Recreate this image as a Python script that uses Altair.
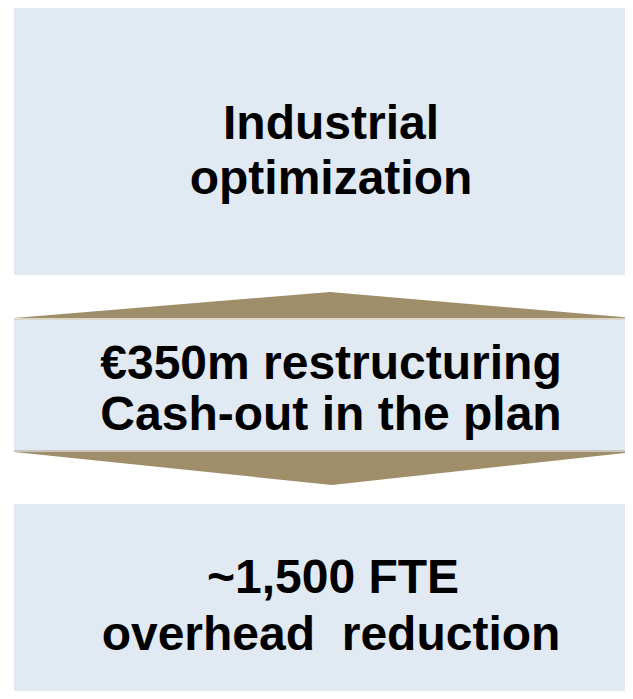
import altair as alt
import pandas as pd

# Boxes (pixel-space extents of the three panels)
box_names = ["top", "middle", "bottom"]
box_x0 = [14, 14, 14]
box_x1 = [633, 633, 633]
box_y0 = [7, 320, 504]
box_y1 = [275, 451, 699]

# Arrow triangles: (x, y) vertices along the outline, base level
up_x = [14, 330, 633]
up_y = [318, 292, 318]
up_base = [318, 318, 318]
down_x = [14, 332, 633]
down_y = [452, 485, 452]
down_base = [452, 452, 452]

# thin light edges at the arrow bases
edge_x0 = [14, 14]
edge_x1 = [633, 633]
edge_y = [319, 451]
edge_col = ["#CFC8B6", "#B9B4A8"]

# Text lines
lines = ["Industrial", "optimization",
         "€350m restructuring", "Cash-out in the plan",
         "~1,500 FTE", "overhead\u00a0 reduction"]
line_x = [331, 331, 331, 331, 333, 331]
line_y = [139, 194, 379, 430, 593, 650]

BOX = "#E1E9F3"
ARROW = "#A08E6A"

xs = alt.Scale(domain=[8, 625], nice=False, zero=False)
ys = alt.Scale(domain=[8, 691], nice=False, zero=False, reverse=True)

boxes = pd.DataFrame({"name": box_names, "x0": box_x0, "x1": box_x1,
                      "y0": box_y0, "y1": box_y1})
box_layer = alt.Chart(boxes).mark_rect(color=BOX, clip=True).encode(
    x=alt.X("x0:Q", scale=xs, axis=None),
    x2="x1:Q",
    y=alt.Y("y0:Q", scale=ys, axis=None),
    y2="y1:Q",
)

up = pd.DataFrame({"x": up_x, "y": up_y, "b": up_base})
up_layer = alt.Chart(up).mark_area(color=ARROW, opacity=1, clip=True).encode(
    x=alt.X("x:Q", scale=xs, axis=None),
    y=alt.Y("y:Q", scale=ys, axis=None),
    y2="b:Q",
)

down = pd.DataFrame({"x": down_x, "y": down_y, "b": down_base})
down_layer = alt.Chart(down).mark_area(color=ARROW, opacity=1, clip=True).encode(
    x=alt.X("x:Q", scale=xs, axis=None),
    y=alt.Y("y:Q", scale=ys, axis=None),
    y2="b:Q",
)

edges = pd.DataFrame({"x0": edge_x0, "x1": edge_x1, "y": edge_y, "c": edge_col})
edge_layer = alt.Chart(edges).mark_rule(strokeWidth=1.5, clip=True).encode(
    x=alt.X("x0:Q", scale=xs, axis=None),
    x2="x1:Q",
    y=alt.Y("y:Q", scale=ys, axis=None),
    color=alt.Color("c:N", scale=None),
)

txt = pd.DataFrame({"t": lines, "x": line_x, "y": line_y})
text_layer = alt.Chart(txt).mark_text(
    font="Liberation Sans", fontWeight="bold", fontSize=48,
    color="#000000", align="center", baseline="alphabetic",
).encode(
    x=alt.X("x:Q", scale=xs, axis=None),
    y=alt.Y("y:Q", scale=ys, axis=None),
    text="t:N",
)

chart = alt.layer(box_layer, up_layer, down_layer, edge_layer, text_layer).properties(
    width=617, height=683, padding=0, autosize=alt.AutoSizeParams(type="none"),
    background="#FFFFFF",
).configure_view(stroke=None)

chart.save("out.html", embed_options={"renderer": "svg", "actions": False})
